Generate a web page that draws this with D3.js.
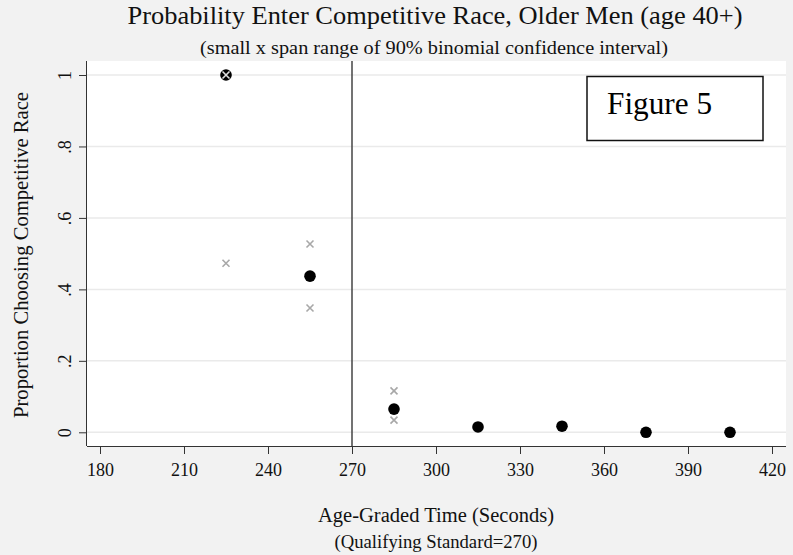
<!DOCTYPE html>
<html><head><meta charset="utf-8">
<script src="https://cdn.jsdelivr.net/npm/d3@7"></script>
<style>body{margin:0;background:#f2f2f2;} svg{display:block;}</style>
</head><body>
<svg id="c" width="793" height="555"></svg>
<script>
const times = [225, 255, 285, 315, 345, 375, 405];
const proportions = [1.0, 0.437, 0.065, 0.015, 0.017, 0, 0];
const ciTimes = [225, 225, 255, 255, 285, 285];
const ciBounds = [0.473, 1.0, 0.527, 0.348, 0.116, 0.034];
const xTicks = [180, 210, 240, 270, 300, 330, 360, 390, 420];
const yTicks = [0, 0.2, 0.4, 0.6, 0.8, 1];
const yTickLabels = ["0", ".2", ".4", ".6", ".8", "1"];
const standard = 270;

const svg = d3.select("#c");
const font = "'Liberation Serif','Times New Roman',serif";
const L = 87, R = 786, T = 61, B = 446;
const x = d3.scaleLinear().domain([180, 420]).range([100, 772]);
const y = d3.scaleLinear().domain([0, 1]).range([432.3, 75]);

svg.append("rect").attr("width", 793).attr("height", 555).attr("fill", "#f2f2f2");
svg.append("rect").attr("x", L).attr("y", T).attr("width", R - L).attr("height", B - T).attr("fill", "#fff");

// grid
svg.append("g").selectAll("line").data(yTicks).join("line")
  .attr("x1", L).attr("x2", R).attr("y1", d => y(d)).attr("y2", d => y(d))
  .attr("stroke", "#eaeaea").attr("stroke-width", 1.5);

// axes
const xAxis = svg.append("g").attr("transform", `translate(0,${B})`)
  .call(d3.axisBottom(x).tickValues(xTicks).tickSize(8).tickPadding(6).tickFormat(d3.format("d")));
xAxis.select(".domain").attr("d", `M${L},0.5H${R}`).attr("stroke", "#333");
const yAxis = svg.append("g").attr("transform", `translate(${L},0)`)
  .call(d3.axisLeft(y).tickValues(yTicks).tickSize(8).tickPadding(6).tickFormat((d, i) => yTickLabels[i]));
yAxis.select(".domain").attr("d", `M-0.5,${T}V${B}`).attr("stroke", "#333");
[xAxis, yAxis].forEach(a => {
  a.selectAll(".tick line").attr("stroke", "#333");
  a.selectAll("text").attr("font-family", font).attr("font-size", 18).attr("fill", "#111");
});
xAxis.selectAll(".tick text").attr("y", 30).attr("dy", null);
yAxis.selectAll(".tick text").attr("text-anchor", "middle").attr("x", null).attr("dy", null)
  .attr("y", 0).attr("transform", "translate(-16,0) rotate(-90)");

// vertical standard line
svg.append("line").attr("x1", x(standard)).attr("x2", x(standard)).attr("y1", T).attr("y2", B)
  .attr("stroke", "#444").attr("stroke-width", 1.5);

// points
svg.append("g").selectAll("circle").data(times.map((t, i) => [t, proportions[i]])).join("circle")
  .attr("cx", d => x(d[0])).attr("cy", d => y(d[1])).attr("r", 5.8).attr("fill", "#000");

// CI markers
const s = 3.5;
svg.append("g").selectAll("path").data(ciTimes.map((t, i) => [t, ciBounds[i]])).join("path")
  .attr("d", d => { const cx = x(d[0]), cy = y(d[1]); return `M${cx-s},${cy-s}L${cx+s},${cy+s}M${cx-s},${cy+s}L${cx+s},${cy-s}`; })
  .attr("stroke", d => d[1] === 1 ? "#e0e0e0" : "#a8a8a8").attr("stroke-width", 1.6).attr("fill", "none");

function txt(xp, yp, size, len, s, rot) {
  const t = svg.append("text").attr("text-anchor", "middle")
    .attr("font-family", font).attr("font-size", size).attr("fill", "#111")
    .attr("textLength", len).attr("lengthAdjust", "spacingAndGlyphs").text(s);
  if (rot) t.attr("transform", `translate(${xp},${yp}) rotate(-90)`);
  else t.attr("x", xp).attr("y", yp);
  return t;
}
txt(435, 24, 25, 615, "Probability Enter Competitive Race, Older Men (age 40+)");
txt(434, 54, 19.5, 468, "(small x span range of 90% binomial confidence interval)");
txt(436, 522, 20.5, 236, "Age-Graded Time (Seconds)");
txt(436, 548, 18.5, 203, "(Qualifying Standard=270)");
txt(28, 255, 20, 326, "Proportion Choosing Competitive Race", true);

// Figure 5 box
svg.append("rect").attr("x", 587).attr("y", 76.5).attr("width", 176).attr("height", 64)
  .attr("fill", "#fff").attr("stroke", "#111").attr("stroke-width", 1.5);
svg.append("text").attr("x", 607).attr("y", 114).attr("font-family", font).attr("font-size", 32).attr("fill", "#000")
  .attr("textLength", 105).attr("lengthAdjust", "spacingAndGlyphs").text("Figure 5");
</script>
</body></html>
